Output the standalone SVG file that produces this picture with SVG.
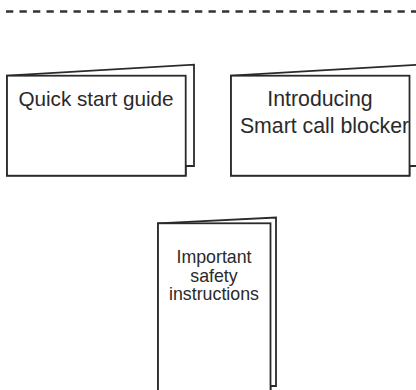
<svg xmlns="http://www.w3.org/2000/svg" width="416" height="390" viewBox="0 0 416 390">
<style>
.pg{fill:#fff;stroke:#2a2a2a;stroke-width:1.8;stroke-linejoin:miter}
.t{font-family:"Liberation Sans",Arial,sans-serif;fill:#2a2a2a;text-anchor:middle}
.dash{stroke:#333;stroke-width:2.6;stroke-dasharray:7.3 6.2;fill:none}
</style>
<rect width="416" height="390" fill="#fff"/>
<line class="dash" x1="6" y1="11.5" x2="416" y2="11.5"/>
<g id="quick-start-guide">
<polygon class="pg" points="7,75.7 194,64.7 194,166 185.7,166 185.7,175.7 7,175.7"/>
<rect class="pg" x="7" y="75.7" width="178.7" height="100"/>
<text class="t" x="96" y="105.7" font-size="20.7">Quick start guide</text>
</g>
<g id="smart-call-blocker">
<polygon class="pg" points="231,75.7 418,64.7 418,166 409.5,166 409.5,175.7 231,175.7"/>
<rect class="pg" x="231" y="75.7" width="178.5" height="100"/>
<text class="t" font-size="21.3"><tspan x="320" y="105.7">Introducing</tspan><tspan x="324.5" y="132.7">Smart call blocker</tspan></text>
</g>
<g id="safety-instructions">
<polygon class="pg" points="158,223.3 276,217.5 276,386 270.5,386 270.5,395 158,395"/>
<rect class="pg" x="158" y="223.3" width="112.5" height="172"/>
<text class="t" font-size="17.8"><tspan x="214" y="263.3">Important</tspan><tspan x="214" y="281.7">safety</tspan><tspan x="214" y="300">instructions</tspan></text>
</g>
</svg>
